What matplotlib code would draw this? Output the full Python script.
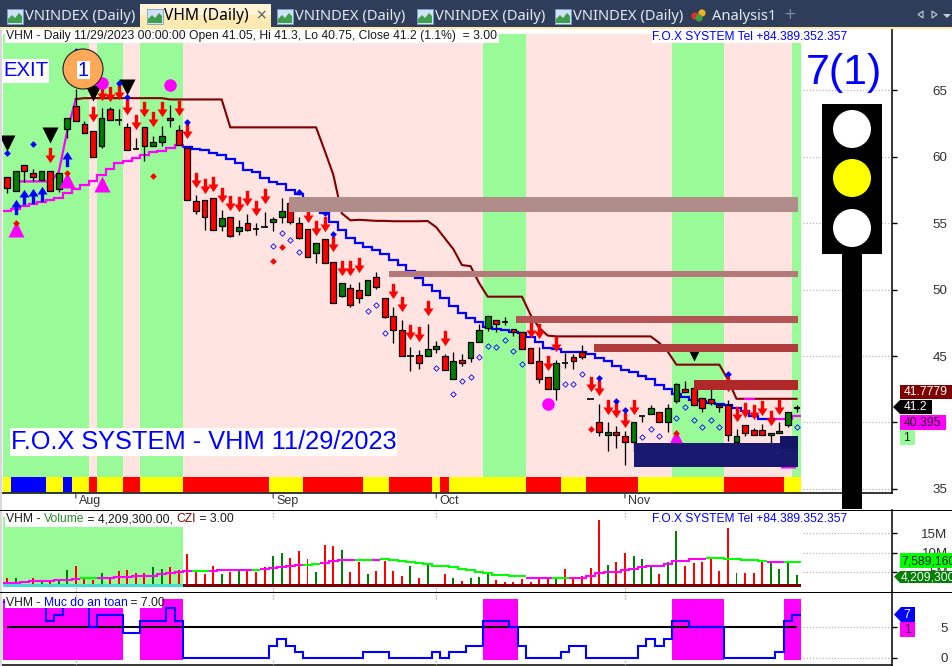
import numpy as np
import matplotlib
matplotlib.use("Agg")
import matplotlib.pyplot as plt
from matplotlib.path import Path
from matplotlib.patches import Rectangle, Polygon, Ellipse

# ---------------- DATA ----------------
candle_open = [58.45,57.40,59.42,58.75,58.22,58.97,57.55,62.12,63.85,62.5,61.97,60.85,63.62,62.8,62.27,60.62,62.27,60.85,61.15,62.95,62.05,
 60.7,56.65,56.72,56.87,54.77,55.45,54.4,55.0,54.55,54.7,55.07,55.45,56.5,55.0,54.55,52.75,53.8,52.07,49.52,50.12,49.97,49.6,50.95,49.37,48.02,46.97,45.02,45.1,45.02,45.55,45.02,43.3,44.72,44.87,46.07,47.12,47.72,47.57,47.05,46.82,
 45.62,44.65,43.45,42.55,44.5,44.95,45.32,41.8,40.07,39.02,39.25,38.95,38.5,40.45,40.67,40.82,40.0,41.65,42.55,42.62,41.87,41.8,41.35,41.35,38.5,39.77,39.4,39.4,39.02,39.17,39.77,41.05]
candle_close = [57.62,58.97,58.97,58.45,58.97,57.40,58.82,62.95,62.72,61.82,60.02,62.95,62.8,62.8,60.55,60.62,60.85,61.15,61.6,62.8,60.92,
 56.72,55.9,55.45,54.47,55.37,54.02,54.7,54.47,54.55,54.7,55.3,55.9,55.07,53.87,52.45,53.5,52.0,49.0,50.5,48.85,49.37,50.72,50.2,47.95,46.97,45.02,45.02,44.5,45.55,45.77,43.97,44.65,44.5,46.07,46.97,48.02,47.42,47.57,46.82,45.55,
 44.5,43.3,42.55,44.5,44.5,44.65,44.95,41.8,39.25,39.25,39.02,38.5,40.0,40.45,41.05,40.07,41.05,42.92,42.32,41.35,41.05,41.5,41.2,39.02,38.95,39.17,39.02,39.02,39.17,39.32,40.75,41.2]
candle_high = [58.45,58.97,59.42,59.05,58.97,58.97,58.82,62.95,65.12,62.72,61.97,63.7,63.77,63.62,62.57,61.45,62.27,61.6,62.35,63.92,62.42,
 60.7,57.1,56.72,56.87,55.97,55.45,55.22,55.67,55.0,55.82,55.45,56.87,56.5,55.45,54.55,53.5,53.8,52.07,50.5,50.42,50.57,50.72,51.32,49.37,48.7,47.72,45.7,45.47,47.42,46.15,45.17,45.32,45.17,46.07,47.42,48.02,47.72,47.95,47.05,46.82,
 45.62,45.7,43.45,44.72,45.25,45.17,45.85,41.8,41.42,40.0,39.7,39.32,40.0,40.45,41.35,40.82,41.42,43.0,43.15,42.62,41.87,42.55,41.35,41.72,39.47,39.77,39.55,39.92,39.17,40.0,40.75,41.3]
candle_low = [57.25,57.40,58.07,58.15,58.22,57.40,57.32,61.45,62.72,61.82,60.02,60.7,62.8,62.42,60.55,60.62,59.72,60.85,60.85,62.27,60.92,
 56.72,55.67,54.47,54.47,54.4,53.95,54.1,54.4,54.1,54.7,54.4,55.0,54.92,53.8,52.45,52.0,52.0,49.0,49.45,48.7,49.0,49.6,50.05,47.87,46.0,45.02,43.9,44.05,45.02,45.25,43.97,43.3,44.27,44.57,46.07,46.9,46.82,47.35,46.52,45.55,
 44.5,43.0,42.55,41.72,44.12,44.05,44.8,41.8,38.95,37.82,38.05,36.77,37.75,40.0,40.67,40.07,39.25,41.5,42.32,41.35,40.75,41.35,40.82,38.57,38.35,38.95,39.02,39.02,38.12,39.17,39.62,40.75]

trail_stop = [58.15,58.15,58.15,58.15,58.15,58.15,58.82,61.97,64.35,64.42,64.42,64.42,64.42,64.42,64.42,64.42,64.42,64.42,64.42,64.32,64.32,
 64.32,64.32,64.32,64.32,64.32,62.22,62.22,62.22,62.22,62.22,62.22,62.22,62.22,62.22,62.22,62.22,60.47,58.67,55.75,55.22,55.26,55.22,55.18,55.18,55.15,55.15,55.15,55.15,55.17,54.7,53.87,53.05,51.85,51.77,50.5,49.47,49.47,49.47,49.47,49.47,
 48.1,47.12,46.54,46.48,46.48,46.48,46.48,46.48,46.48,46.48,46.48,46.48,46.48,46.48,46.48,45.99,45.32,44.35,44.35,44.35,44.35,44.35,44.35,43.22,41.78,41.78,41.78,41.78,41.78,41.78,41.78,41.78]
stair_line = [55.92,56.1,56.27,56.42,56.59,56.72,56.87,57.27,57.57,57.85,58.17,58.6,59.05,59.52,59.72,59.92,60.17,60.34,60.42,60.67,60.87,
 60.72,60.6,60.52,60.3,60.17,59.85,59.52,59.02,58.84,58.39,58.09,57.97,57.52,57.22,56.72,56.2,55.75,55.09,54.52,53.89,53.52,53.22,52.99,52.67,52.24,51.82,51.42,50.85,50.35,49.92,49.35,48.77,48.27,47.89,47.59,47.22,47.02,46.97,46.84,46.72,
 46.42,46.02,45.64,45.52,45.34,45.34,45.27,45.17,44.89,44.59,44.27,43.97,43.77,43.47,43.27,42.85,42.52,42.17,41.92,41.72,41.59,41.47,41.42,41.35,41.05,40.84,40.47,40.27,40.27,40.27,40.27,40.47]

red_arrow_bar = [5,10,11,12,13,14,15,16,17,18,20,21,22,23,24,25,26,27,28,29,30,35,36,37,38,39,40,41,45,46,47,48,49,51,61,62,63,64,68,69,70,71,72,73,84,85,86,87,88,89,90]
red_arrow_y = [60.17,63.22,64.8,64.72,64.92,63.77,62.65,63.57,62.87,63.57,63.64,61.92,58.27,57.79,57.97,57.12,56.55,56.42,56.89,56.17,57.02,55.6,54.62,54.92,53.42,51.62,51.62,51.85,49.9,48.92,46.82,46.67,48.62,46.37,46.97,46.9,44.5,45.92,42.92,42.62,41.2,40.9,40.15,41.2,42.92,40.67,40.9,40.75,41.12,40.37,41.2]
blue_arrow_bar = [1,2,3,4,7]
blue_arrow_y = [56.2,56.95,57.02,57.17,59.8]
black_tri_bar = [0,5,10,14]
black_tri_y = [61.07,61.67,64.82,65.27]
small_black_bar = [80]
small_black_y = [45.02]
mag_tri_bar = [1,7,11,91]
mag_tri_y = [54.55,58.22,57.92,37.15]
small_mag_bar = [78]
small_mag_y = [38.87]
mag_dot_bar = [11,19,63]
mag_dot_y = [65.57,65.42,41.42]
blue_dia_bar = [0,3,8,13,14,21,34,37,38,69,71,72,84]
blue_dia_y = [60.32,60.97,67.97,65.57,64.52,62.65,57.32,55.75,54.17,43.37,41.65,40.9,43.67]
red_dia_bar = [1,7,17,32,31,68,78]
red_dia_y = [54.99,58.75,58.52,53.19,52.15,39.54,39.24]
open_dia_bar = [31,32,33,34,42,43,44,50,52,53,54,55,56,57,58,59,60,65,66,67,74,75,76,78,79,80,81,82,83,92]
open_dia_y = [53.27,54.25,53.72,52.82,48.4,48.85,46.75,44.12,42.17,43.15,43.45,44.95,45.77,45.7,46.22,45.4,44.42,42.92,42.92,43.67,38.87,39.47,38.95,40.37,41.2,40.22,39.62,40.22,39.69,39.62]

# supply / demand zones: first bar, low price, high price
zone_start = [32.9,44.5,59.3,68.4,80.1,73.1,90.1]
zone_low = [55.84,50.95,47.5,45.3,42.45,36.65,38.0]
zone_high = [56.95,51.4,48.0,45.9,43.2,38.45,38.95]
zone_color = ['#b08c8a','#b47a7a','#b45555','#b03c3c','#b02828','#191970','#141464']

green_runs = [(0,9),(11,13),(16,20),(56,60),(78,83),(92,92)]
ribbon_runs = [(0,0,'y'),(1,4,'b'),(5,6,'y'),(7,7,'b'),(8,9,'y'),(10,10,'r'),(11,13,'y'),(14,15,'r'),(16,20,'y'),(21,30,'r'),(31,34,'y'),(35,41,'r'),(42,44,'y'),(45,49,'r'),(50,50,'y'),(51,51,'r'),(52,60,'y'),(61,64,'r'),(65,67,'y'),(68,73,'r'),(74,83,'y'),(84,90,'r'),(91,92,'y')]
ribbon_palette = {'y':'#ffff00','b':'#0000ff','r':'#ff0000'}

month_bars = [8,31,50,72]
month_names = ['Aug','Sep','Oct','Nov']
price_ticks = [35,40,45,50,55,60,65]

volume = [3.37,3.37,1.9,3.37,2.95,2.7,2.7,5.5,6.5,3.37,2.95,4.65,3.37,5.25,5.5,4.75,4.65,6.2,5.75,6.2,5.5,
 9.6,5.15,4.5,6.5,4.5,5.1,5.25,5.25,5.1,6.3,9.1,9.85,8.6,10.4,8.3,4.9,11.9,11.65,10.65,5.0,7.55,4.5,5.25,7.8,5.25,4.0,6.5,3.45,7.2,1.65,4.5,3.45,2.7,3.45,3.7,4.65,2.95,2.45,2.45,3.2,
 2.5,3.7,3.45,3.2,5.75,3.37,4.0,6.0,18.3,6.8,7.55,9.85,9.1,8.3,6.3,4.5,7.55,15.5,6.5,7.3,7.55,8.6,5.25,16.3,4.75,4.75,4.75,7.55,7.3,5.75,7.55,4.2]
volume_up = [0,1,0,0,1,0,1,1,0,0,0,1,0,0,0,0,0,1,1,0,0,
 0,0,0,0,1,0,1,0,0,0,1,1,0,0,0,1,0,0,1,0,0,1,0,0,0,0,1,0,1,1,0,1,0,1,1,1,0,0,0,0,
 0,0,0,1,0,0,0,0,0,1,0,0,1,1,1,0,1,1,0,0,0,0,0,0,1,0,0,0,1,1,1,1]
volume_ma = [2.26,2.26,2.52,2.69,2.77,2.77,2.86,3.03,3.2,3.37,3.37,3.54,3.54,3.63,3.8,3.97,3.97,4.06,4.4,4.65,4.91,
 5.25,5.34,5.25,5.34,5.51,5.6,5.6,5.6,5.6,5.77,5.94,6.19,6.45,6.71,6.88,6.96,7.39,7.82,8.07,8.16,8.16,8.16,8.16,8.42,8.07,7.82,7.56,7.3,7.05,6.62,6.53,6.19,5.77,5.42,5.0,4.65,4.31,4.14,3.97,3.88,
 3.54,3.54,3.37,3.37,3.37,3.45,3.54,3.88,4.74,4.91,4.91,5.51,5.85,6.19,6.53,6.62,7.05,7.82,7.9,8.24,8.33,8.59,8.59,8.42,8.24,8.07,7.99,7.73,7.65,7.65,7.65,7.65]
ma_green_bars = [9,10,22,23,29,35,36,41,42]+list(range(44,61))+[64,65]+list(range(82,89))+[91,92]

safety_level = [9,9,9,9,9,6,7,9,9,9,5,7,7,7,4,4,6,6,6,8,6,
 0,0,0,0,0,0,0,0,0,0,2,3,2,1,0,0,0,0,0,0,0,1,1,1,0,0,0,0,0,1,0,1,1,2,2,6,6,6,5,2,
 0,0,0,0,1,2,2,0,0,0,0,0,0,2,3,2,3,6,6,5,5,5,5,0,0,0,0,0,0,1,6,7]
safety_ticks = [0,5]
safety_line = 5

title_main = "VHM - Daily 11/29/2023 00:00:00 Open 41.05, Hi 41.3, Lo 40.75, Close 41.2 (1.1%)  = 3.00"
tel_text = "F.O.X SYSTEM Tel +84.389.352.357"
big_text = "F.O.X SYSTEM - VHM 11/29/2023"
tab_names = ["VNINDEX (Daily)","VNINDEX (Daily)","VNINDEX (Daily)","VNINDEX (Daily)"]

# ---------------- SETUP ----------------
W, H = 953, 666
plt.rcParams['font.family'] = 'Liberation Sans'
fig = plt.figure(figsize=(W/100, H/100), dpi=100, facecolor='white')
BAR0, STEP = 7.2, 8.58
XL = (-BAR0/STEP, (892-BAR0)/STEP)
PINK, GRN = '#ffe4e1', '#98fb98'
TXT = '#1a1a1a'
N = len(candle_open)
bars = np.arange(N)
edges = np.arange(N+1)-0.5

def panel(top, bottom):
    ax = fig.add_axes([0, 1-bottom/H, 892/W, (bottom-top)/H])
    ax.set_xlim(*XL)
    ax.spines['left'].set_visible(False)
    ax.spines['top'].set_visible(False)
    ax.set_axisbelow(True)
    ax.yaxis.tick_right()
    ax.tick_params(axis='y', length=3.6, width=1, pad=36.5, labelsize=9.6, labelcolor='#303030')
    ax.grid(axis='y', color='#b8b8b8', ls=(0,(1,1.5)), lw=0.9)
    ax.set_xticks([])
    ax.add_patch(Rectangle((0,0), (802)/892, 1, transform=ax.transAxes, fc='white', ec='none', zorder=0.8))
    return ax

def yticks(ax, ticks, labels=None):
    ax.set_yticks(ticks)
    ax.set_yticklabels(labels if labels else [str(t) for t in ticks], ha='right')

def frect(x0, y0, x1, y1, **kw):
    p = Rectangle((x0/W, 1-y1/H), (x1-x0)/W, (y1-y0)/H, transform=fig.transFigure, ec=kw.pop('ec','none'), **kw)
    fig.add_artist(p)
    return p

def fpoly(pts, **kw):
    p = Polygon([(x/W, 1-y/H) for x, y in pts], closed=True, transform=fig.transFigure, ec=kw.pop('ec','none'), **kw)
    fig.add_artist(p)
    return p

def fcircle(cx, cy, r, **kw):
    p = Ellipse((cx/W, 1-cy/H), 2*r/W, 2*r/H, transform=fig.transFigure, ec=kw.pop('ec','none'), **kw)
    fig.add_artist(p)
    return p

def ftext(x, y, s, size, color=TXT, ha='left', **kw):
    return fig.text(x/W, 1-y/H, s, fontsize=size, color=color, ha=ha, va='center', zorder=kw.pop('zorder',6), **kw)

def color_runs(flags):
    runs, s = [], 0
    for i in range(1, len(flags)+1):
        if i == len(flags) or flags[i] != flags[s]:
            runs.append((s, i-1, flags[s])); s = i
    return runs

ARROW = Path([(0.22,1),(-0.22,1),(-0.22,0),(-0.66,0),(0,-1),(0.66,0),(0.22,0),(0.22,1)], closed=True)
ARROW_UP = Path([(0.22,-1),(-0.22,-1),(-0.22,0),(-0.66,0),(0,1),(0.66,0),(0.22,0),(0.22,-1)], closed=True)

# ---------------- MAIN PANEL ----------------
ax = panel(29, 493)
ax.set_ylim(71.81-0.0753*493, 71.81-0.0753*29)
yticks(ax, price_ticks)
BAND_TOP = (493-34)/464
ax.axvspan(-0.5, N-0.5, 0.001, BAND_TOP, color=PINK, lw=0, zorder=1)
for a, b in green_runs:
    ax.axvspan(a-0.5, b+0.5, 0.001, BAND_TOP, color=GRN, lw=0, zorder=1.1)
for a, b, c in ribbon_runs:
    ax.axvspan(a-0.5, b+0.5, (493-492)/464, (493-477)/464, color=ribbon_palette[c], lw=0, zorder=1.2)

ax.vlines(bars, candle_low, candle_high, color='black', lw=0.95, zorder=3)
o, c = np.array(candle_open), np.array(candle_close)
up = c > o; dn = c < o; flat = c == o
ax.bar(bars[dn], (o-c)[dn], bottom=c[dn], width=0.68, fc='#ff0000', ec='black', lw=0.9, zorder=3.2)
ax.bar(bars[up], (c-o)[up], bottom=o[up], width=0.68, fc='#008000', ec='black', lw=0.9, zorder=3.2)
ax.hlines(c[flat], bars[flat]-0.38, bars[flat]+0.38, color='black', lw=1.2, zorder=3.2)

stair = np.array(stair_line)
ax.stairs(stair[:22], edges[:23], baseline=None, color='#ff00ff', lw=1.6, zorder=2.5)
ax.stairs(stair[21:90], edges[21:91], baseline=None, color='#0000ff', lw=1.6, zorder=2.6)
ax.stairs(stair[89:], edges[89:], baseline=None, color='#ff00ff', lw=1.6, zorder=2.5)
ts = np.array(trail_stop)
ax.plot(bars[1:9], ts[1:9], color='#ff00ff', lw=1.6, zorder=2.7)
ax.plot(bars[8:], ts[8:], color='#800000', lw=1.5, zorder=2.7)
ax.plot(bars[86:88], ts[86:88], color='#ff00ff', lw=1.5, zorder=2.75)

ax.plot(red_arrow_bar, red_arrow_y, ls='none', marker=ARROW, ms=11, mfc='#ff0000', mec='none', zorder=4)
ax.plot(blue_arrow_bar, blue_arrow_y, ls='none', marker=ARROW_UP, ms=11, mfc='#0000ff', mec='none', zorder=4)
ax.plot(black_tri_bar, black_tri_y, ls='none', marker='v', ms=11, mfc='black', mec='none', zorder=4)
ax.plot(small_black_bar, small_black_y, ls='none', marker='v', ms=6.5, mfc='black', mec='none', zorder=4)
ax.plot(mag_tri_bar, mag_tri_y, ls='none', marker='^', ms=12, mfc='#ff00ff', mec='none', zorder=4)
ax.plot(small_mag_bar, small_mag_y, ls='none', marker='^', ms=10, mfc='#ff00ff', mec='none', zorder=4)
ax.plot(mag_dot_bar, mag_dot_y, ls='none', marker='o', ms=9, mfc='#ff00ff', mec='none', zorder=4)
ax.plot(blue_dia_bar, blue_dia_y, ls='none', marker='D', ms=3.4, mfc='#0000ff', mec='none', zorder=4.1)
ax.plot(red_dia_bar, red_dia_y, ls='none', marker='D', ms=3.4, mfc='#ff0000', mec='none', zorder=4.1)
ax.plot(open_dia_bar, open_dia_y, ls='none', marker='D', ms=2.8, mfc='none', mec='#0000ff', mew=0.6, zorder=4)

for s, lo, hi, col in zip(zone_start, zone_low, zone_high, zone_color):
    ax.fill_between([s, 92.15], lo, hi, color=col, lw=0, zorder=5)

ax.spines['right'].set_linewidth(1.1)
ax.spines['bottom'].set_linewidth(1.1)
for m, name in zip(month_bars, month_names):
    ax.annotate('', (m, 0), xycoords=('data','axes fraction'), xytext=(m, -0.011),
                textcoords=('data','axes fraction'), arrowprops=dict(arrowstyle='-', color='#333333', lw=0.8, shrinkA=0, shrinkB=0))
    ax.annotate(name, (m, 0), xycoords=('data','axes fraction'), xytext=(3, -2), textcoords='offset pixels',
                fontsize=9, color='#333333', va='top', ha='left', annotation_clip=False)

# ---------------- VOLUME PANEL ----------------
av = panel(510, 592)
av.set_ylim((591.5-592)/3.9, (591.5-510)/3.9)
yticks(av, [5,10,15], ['5M','10M','15M'])
av.axvspan(-0.5, 20.5, 0.07, (592-517)/82, color=GRN, lw=0, zorder=1)
vol = np.array(volume); vu = np.array(volume_up, bool)
av.bar(bars[vu], vol[vu]-1.4, bottom=1.4, width=0.23, color='#008000', lw=0, zorder=2)
av.bar(bars[~vu], vol[~vu]-1.4, bottom=1.4, width=0.23, color='#ff0000', lw=0, zorder=2)
av.axvspan(-0.5, 20.5, 0.065, 0.098, color='#40e0d0', lw=0, zorder=2.2)
av.axvspan(20.5, N-0.5, 0.065, 0.098, color='#800000', lw=0, zorder=2.2)
ma = np.array(volume_ma)
flags = [1 if i in ma_green_bars else 0 for i in range(N)]
for a, b, f in color_runs(flags):
    av.stairs(ma[a:b+1], edges[a:b+2], baseline=None, color='#00ff00' if f else '#ff00ff', lw=1.5, zorder=3)
av.spines['right'].set_linewidth(1.1)
av.spines['bottom'].set_visible(False)

# ---------------- SAFETY PANEL ----------------
asf = panel(592, 665)
asf.set_ylim((658-665)/6.2, (658-592)/6.2)
yticks(asf, safety_ticks)
lvl = np.array(safety_level)
for a, b, f in color_runs([int(v >= 5) for v in lvl]):
    if f:
        asf.axvspan(a-0.5, min(b+0.5, 93.2), 0.073, 0.904, color='#ff00ff', lw=0, zorder=1)
asf.hlines(safety_line, 0, 92.1, color='black', lw=1.5, zorder=2)
asf.stairs(lvl, edges, baseline=None, color='#0000ff', lw=1.5, zorder=3)
asf.spines['right'].set_linewidth(1.1)
asf.spines['bottom'].set_linewidth(1.1)

# vertical month grid stubs visible at panel edges
for A, spans in ((av, [(0.92,1.0),(0.0,0.06)]), (asf, [(0.91,1.0),(0.0,0.07)])):
    for m in month_bars:
        for lo, hi in spans:
            A.plot([m, m], [lo, hi], transform=A.get_xaxis_transform(), color='#a0a0a0', ls=(0,(1,1.5)), lw=0.9, zorder=4)

# ---------------- CHROME / OVERLAYS ----------------
frect(0, 0, W, 27, fc='#2d3d5a', zorder=5)
frect(0, 27, W, 29, fc='#fde9a8', zorder=5)
frect(140, 4, 271, 15, fc='#fff3d6', zorder=5.1)
frect(140, 15, 271, 27, fc='#fde9b2', zorder=5.1)
frect(0, 29, 2.5, H, fc='#d8d8d8', zorder=5)

def icon(x):
    frect(x, 9, x+16, 24, fc='#cfe2f7', ec='#7a9cc8', lw=0.6, zorder=5.2)
    fpoly([(x+1,23),(x+1,19),(x+5,15),(x+8,18),(x+12,13),(x+15,16),(x+15,23)], fc='#3f9f4a', zorder=5.3)

TAB_X = [25, 295, 435, 573]
for x, name in zip(TAB_X, tab_names):
    icon(x-18)
    ftext(x, 16, name, 10.6, color='#e4e8f0', family='Noto Sans', zorder=7)
icon(147)
ftext(164, 16, 'VHM (Daily)', 11.2, color='black', family='Noto Sans', weight='bold', zorder=7)
ftext(261, 15, '\u00d7', 10, color='#555555', ha='center', family='DejaVu Sans', zorder=7)
for cx, cy, col in ((695,16,'#e03030'),(702,13,'#f0b020'),(699,18,'#40a040')):
    fcircle(cx, cy, 3.6, fc=col, zorder=6)
ftext(712, 16, 'Analysis1', 10.6, color='#e4e8f0', family='Noto Sans', zorder=7)
ftext(790, 14.5, '+', 11, color='#7f8aa0', ha='center', family='DejaVu Sans', zorder=7)
fpoly([(923,11),(918,14.5),(923,18)], fc='none', ec='#c8cedb', lw=0.8, zorder=7)
fpoly([(932,11),(937,14.5),(932,18)], fc='none', ec='#c8cedb', lw=0.8, zorder=7)
fpoly([(943,14),(951,14),(947,18)], fc='#c8cedb', zorder=7)

# title strips
frect(5, 29, 499, 43, fc='white', zorder=5.5)
ftext(6, 36.5, title_main, 8.75)
frect(652, 30, 847, 43, fc='white', zorder=5.5)
ftext(652, 36.5, tel_text, 8.65, color='#0000ff')
frect(652, 513, 847, 526, fc='white', zorder=5.5)
ftext(652, 519.5, tel_text, 8.65, color='#0000ff')

def parts(x, y, seq):
    r = fig.canvas.get_renderer()
    for s, col in seq:
        t = ftext(x, y, s, 8.75, color=col)
        x += t.get_window_extent(r).width
    return x

frect(5, 514, 230, 527, fc='white', zorder=5.5)
parts(6, 519.5, [('VHM - ', TXT), ('Volume', '#2e8b2e'), (' = 4,209,300.00, ', TXT), ('CZI', '#800000'), (' = 3.00', TXT)])
frect(5, 598, 162, 608, fc='white', zorder=5.5)
parts(6, 602.5, [('VHM - ', TXT), ('Muc do an toan', '#0000ff'), (' = 7.00', TXT)])

# EXIT and badge
frect(3, 59, 49, 83, fc='white', zorder=5.5)
ftext(3, 71, 'EXIT', 14.6, color='#0000ff')
fcircle(83, 69, 20, fc='#ffa858', ec='#202020', lw=0.8, zorder=5.6)
frect(77, 61, 90, 79, fc='white', zorder=5.7)
ftext(83.5, 70, '1', 14.5, color='#0000ff', ha='center', zorder=6)

# big caption
frect(10, 428, 397, 456, fc='white', zorder=5.5)
ftext(11, 442, big_text, 18.3, color='#0000ff')

# traffic light
ftext(844, 73, '7(1)', 31, color='#0000ff', ha='center')
frect(822, 104, 882, 254, fc='black', zorder=5.5)
frect(842, 254, 862, 509, fc='black', zorder=5.5)
for cy, col in ((129,'white'),(178,'#ffff00'),(228,'white')):
    fcircle(852, cy, 19, fc=col, zorder=5.6)

# horizontal separators
frect(0, 509.5, W, 510.7, fc='black', zorder=5.4)
frect(0, 591.7, W, 592.9, fc='black', zorder=5.4)

# value tags
frect(900, 385, 953, 399, fc='#800000', zorder=5.7)
ftext(904, 392, '41.7779', 8.75, color='white')
fpoly([(893,407),(900,400),(932,400),(932,414),(900,414)], fc='black', zorder=5.7)
ftext(904, 407, '41.2', 8.75, color='white')
frect(900, 415, 946, 430, fc='#ff00ff', zorder=5.7)
ftext(904, 423, '40.395', 8.75, color='#202020')
frect(900, 430, 915, 445, fc=GRN, zorder=5.7)
ftext(903, 438, '1', 8.75, color='#202020')
frect(900, 553, 953, 568, fc='#00ff00', zorder=5.7)
ftext(901, 561, '7,589,160', 8.75, color='#202020')
fpoly([(894,576.5),(900,571),(953,571),(953,583),(900,583)], fc='#008000', zorder=5.7)
ftext(901, 577, '4,209,300', 8.75, color='white')
fpoly([(894,614.5),(901,607),(915,607),(915,622),(901,622)], fc='#0000ff', zorder=5.7)
ftext(907, 614.5, '7', 8.75, color='white', ha='center')
frect(900, 622, 915, 637, fc='#ff00ff', zorder=5.7)
ftext(907, 630, '1', 8.75, color='#202020', ha='center')

fig.savefig('out.png', dpi=100)
